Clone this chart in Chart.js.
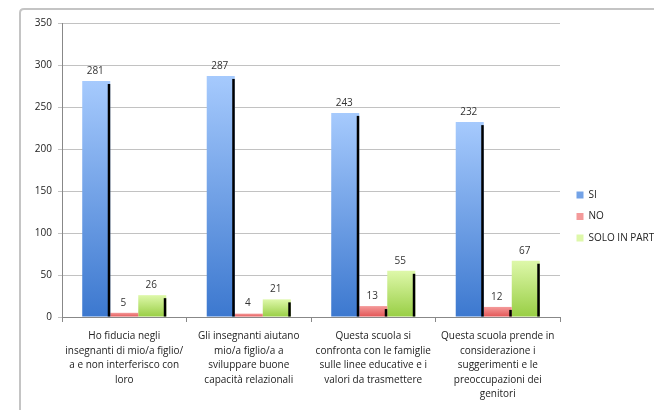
<!DOCTYPE html>
<html>
<head>
<meta charset="utf-8">
<script src="https://cdn.jsdelivr.net/npm/chart.js@4/dist/chart.umd.min.js"></script>
<style>
  html, body { margin: 0; padding: 0; background: #ffffff; }
  #wrap { width: 654px; height: 410px; position: relative; }
</style>
</head>
<body>
<div id="wrap"><canvas id="c" width="654" height="410"></canvas></div>
<script>
// ---- data ----
const categories = [
  ["Ho fiducia negli", "insegnanti di mio/a figlio/", "a e non interferisco con", "loro"],
  ["Gli insegnanti aiutano", "mio/a figlio/a a", "sviluppare buone", "capacità relazionali"],
  ["Questa scuola si", "confronta con le famiglie", "sulle linee educative e i", "valori da trasmettere"],
  ["Questa scuola prende in", "considerazione i", "suggerimenti e le", "preoccupazioni dei", "genitori"]
];
const seriesNames = ["SI", "NO", "SOLO IN PART"];
const siValues = [281, 287, 243, 232];
const noValues = [5, 4, 13, 12];
const soloValues = [26, 21, 55, 67];
const yTicks = [0, 50, 100, 150, 200, 250, 300, 350];

const FONT = "'Open Sans', 'Liberation Sans', sans-serif";

function gradient(topColor, bottomColor, solid) {
  return function (ctx) {
    if (ctx.type !== 'data') return solid;
    const chart = ctx.chart;
    const ys = chart.scales && chart.scales.y;
    if (!ys || !chart.chartArea) return solid;
    const yTop = ys.getPixelForValue(ctx.raw);
    const yBase = ys.getPixelForValue(0);
    if (!isFinite(yTop) || !isFinite(yBase) || yBase - yTop < 1) return solid;
    const g = chart.ctx.createLinearGradient(0, yTop, 0, yBase);
    g.addColorStop(0, topColor);
    g.addColorStop(1, bottomColor);
    return g;
  };
}

const framePlugin = {
  id: 'frame',
  beforeDraw(chart) {
    const c = chart.ctx;
    c.save();
    c.fillStyle = '#ffffff';
    c.fillRect(0, 0, chart.width, chart.height);
    c.strokeStyle = '#c4c4c4';
    c.lineWidth = 2;
    c.beginPath();
    const x = 20, y = 9, r = 4;
    c.moveTo(x, chart.height + 10);
    c.lineTo(x, y + r);
    c.quadraticCurveTo(x, y, x + r, y);
    c.lineTo(chart.width + 10, y);
    c.stroke();
    c.restore();
  }
};

const shadowLabelPlugin = {
  id: 'shadowLabels',
  afterDatasetsDraw(chart) {
    const c = chart.ctx;
    c.save();
    chart.data.datasets.forEach((ds, di) => {
      const meta = chart.getDatasetMeta(di);
      meta.data.forEach((bar) => {
        const right = bar.x + bar.width / 2;
        const h = bar.base - bar.y;
        if (h > 4) {
          c.fillStyle = '#000000';
          c.fillRect(right - 2.5, bar.y + 3, 2.5, h - 3);
        }
      });
    });
    c.fillStyle = '#333333';
    c.font = "10px " + FONT;
    c.textAlign = 'center';
    c.textBaseline = 'middle';
    chart.data.datasets.forEach((ds, di) => {
      const meta = chart.getDatasetMeta(di);
      meta.data.forEach((bar, i) => {
        c.fillText(String(ds.data[i]), bar.x - 1, bar.y - 10);
      });
    });
    c.restore();
  }
};

const legendPlugin = {
  id: 'legendWidth',
  beforeUpdate(chart) {
    const lg = chart.legend;
    if (lg && !lg._patched) {
      const orig = lg.fit.bind(lg);
      lg.fit = function () {
        orig();
        this.width = 94;
        this.right = this.left + 94;
      };
      lg._patched = true;
    }
  },
  afterLayout(chart) {
    const lg = chart.legend;
    if (lg) {
      lg.left = chart.chartArea.right + 5;
      lg.right = lg.left + 94;
    }
  }
};

new Chart(document.getElementById('c'), {
  type: 'bar',
  data: {
    labels: categories,
    datasets: [
      {
        label: seriesNames[0],
        data: siValues,
        backgroundColor: gradient('#a6cafd', '#3c78cf', '#5b8fd8'),
        borderWidth: 0
      },
      {
        label: seriesNames[1],
        data: noValues,
        backgroundColor: gradient('#f49a9a', '#e25454', '#e25c5c'),
        borderWidth: 0
      },
      {
        label: seriesNames[2],
        data: soloValues,
        backgroundColor: gradient('#def8aa', '#98ce44', '#a8d65a'),
        borderWidth: 0
      }
    ]
  },
  options: {
    responsive: false,
    animation: false,
    events: [],
    layout: { padding: { top: 23, left: 0, right: 0, bottom: 0 } },
    datasets: {
      bar: { categoryPercentage: 0.675, barPercentage: 1.0 }
    },
    plugins: {
      tooltip: { enabled: false },
      title: { display: false },
      legend: {
        position: 'right',
        align: 'center',
        labels: {
          boxWidth: 7,
          boxHeight: 7,
          padding: 11.5,
          color: '#222222',
          font: { family: FONT, size: 10 }
        }
      }
    },
    scales: {
      x: {
        offset: true,
        grid: {
          display: true,
          drawOnChartArea: false,
          drawTicks: true,
          tickLength: 5,
          color: '#888888',
          offset: true
        },
        border: { display: true, color: '#888888', width: 1 },
        ticks: {
          color: '#222222',
          padding: 7,
          maxRotation: 0,
          autoSkip: false,
          font: { family: FONT, size: 10, lineHeight: 1.45 }
        },
        afterFit(scale) { scale.height = 93; }
      },
      y: {
        min: 0,
        max: 350,
        afterBuildTicks(scale) { scale.ticks = yTicks.map(v => ({ value: v })); },
        grid: {
          color: '#c2c2c2',
          lineWidth: 1,
          tickLength: 4,
          drawTicks: true
        },
        border: { display: true, color: '#888888', width: 1 },
        ticks: {
          color: '#222222',
          padding: 6,
          font: { family: FONT, size: 10 }
        },
        afterFit(scale) { scale.width = 62; }
      }
    }
  },
  plugins: [framePlugin, legendPlugin, shadowLabelPlugin]
});
</script>
</body>
</html>
